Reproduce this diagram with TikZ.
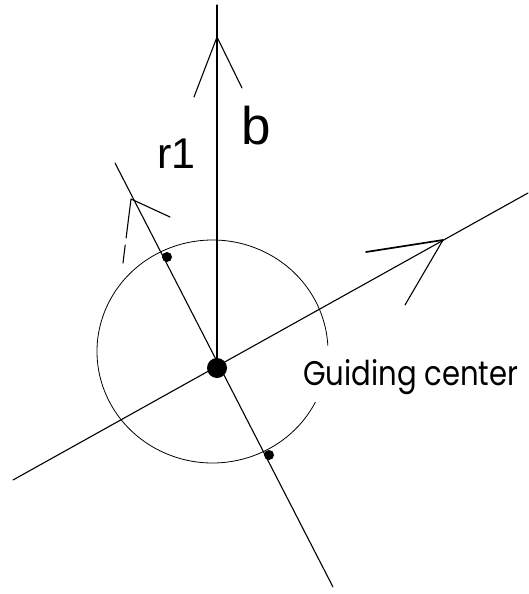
\documentclass[tikz,border=0pt]{standalone}
\usepackage{fontspec}
\setmainfont{Liberation Sans}
\newfontfamily\gcfont{Poppins}
\begin{document}
\begin{tikzpicture}[x=1pt,y=-1pt,
  ln/.style={line width=1.1pt, line cap=round, line join=round},
  circ/.style={line width=0.8pt},
  bigdot/.style={circle, fill=black, inner sep=0pt, minimum size=20pt},
  smalldot/.style={circle, fill=black, inner sep=0pt, minimum size=10pt},
  lbl/.style={anchor=base west, inner sep=0pt, text=black}]
\useasboundingbox (0,0) rectangle (529,594);
% key points
\coordinate (C) at (217,368);
\coordinate (O) at (212.5,351.5);
% b axis
\coordinate (btop) at (217,5);
\coordinate (bapex) at (217,37);
\coordinate (bw1) at (194,97);
\coordinate (bw2) at (242,88);
% r1 axis
\coordinate (rtop) at (115,163);
\coordinate (rbot) at (333,587);
\coordinate (rapex) at (131,199);
\coordinate (rw1a) at (126.1,238);
\coordinate (rw1b) at (125.2,245);
\coordinate (rw1) at (123,263);
\coordinate (rw2) at (170,217);
% diagonal axis
\coordinate (dlow) at (13,480);
\coordinate (dhigh) at (528,193);
\coordinate (dapex) at (443,240);
\coordinate (dw1) at (366,252);
\coordinate (dw2) at (405,305);

% circle with a gap near the label
\draw[circ] (O) ++(27:115.5 and 111.5) arc[start angle=27, end angle=357, x radius=115.5, y radius=111.5];

% axes
\draw[ln] (btop) -- (C);
\draw[ln] (bw1) -- (bapex) -- (bw2);
\draw[ln] (rtop) -- (rbot);
\draw[ln] (rw1a) -- (rapex) -- (rw2);
\draw[ln] (rw1b) -- (rw1);
\draw[ln] (dlow) -- (dhigh);
\draw[ln, line width=1.7pt] (dw1) -- (dapex);
\draw[ln] (dapex) -- (dw2);

% dots
\node[bigdot] (gc) at (C) {};
\node[smalldot] (p1) at (167,257) {};
\node[smalldot] (p2) at (269,455) {};

% labels
\node[lbl, font=\fontsize{53}{53}\selectfont] (b) at (241,144) {b};
\node[lbl, font=\fontsize{43}{43}\selectfont] (r1) at (157,168) {r1};
\node[lbl] (gclabel) at (303,385) {\resizebox{215pt}{26pt}{\gcfont Guiding center}};
\end{tikzpicture}
\end{document}
